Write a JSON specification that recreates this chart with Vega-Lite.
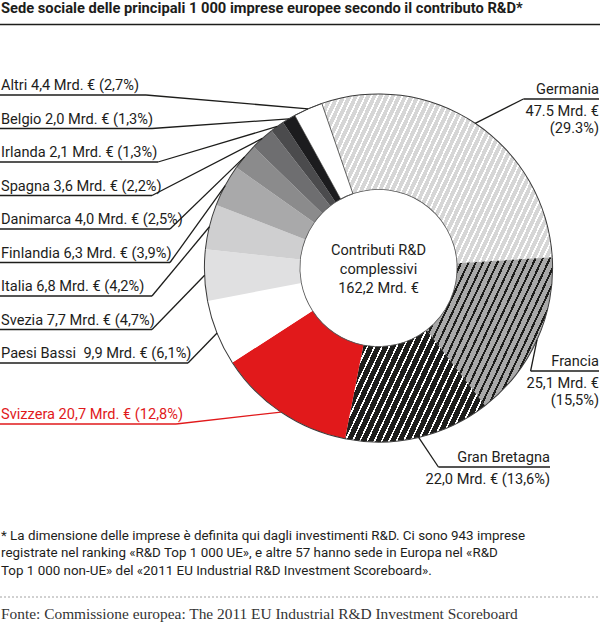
{
  "$schema": "https://vega.github.io/schema/vega-lite/v6.json",
  "width": 600,
  "height": 630,
  "autosize": "none",
  "padding": 0,
  "background": "white",
  "view": {"stroke": null},
  "config": {"font": "Roboto"},
  "layer": [
    {
      "data": {
        "values": [
          {"ord": 1, "paese": "Germania", "valore": 47.5, "quota": 29.3, "etichetta": "Germania\n47.5 Mrd. €\n(29.3%)"},
          {"ord": 2, "paese": "Francia", "valore": 25.1, "quota": 15.5, "etichetta": "Francia\n25,1 Mrd. €\n(15,5%)"},
          {"ord": 3, "paese": "Gran Bretagna", "valore": 22.0, "quota": 13.6, "etichetta": "Gran Bretagna\n22,0 Mrd. € (13,6%)"},
          {"ord": 4, "paese": "Svizzera", "valore": 20.7, "quota": 12.8, "etichetta": "Svizzera 20,7 Mrd. € (12,8%)"},
          {"ord": 5, "paese": "Paesi Bassi", "valore": 9.9, "quota": 6.1, "etichetta": "Paesi Bassi\u00a0 9,9 Mrd. € (6,1%)"},
          {"ord": 6, "paese": "Svezia", "valore": 7.7, "quota": 4.7, "etichetta": "Svezia 7,7 Mrd. € (4,7%)"},
          {"ord": 7, "paese": "Italia", "valore": 6.8, "quota": 4.2, "etichetta": "Italia 6,8 Mrd. € (4,2%)"},
          {"ord": 8, "paese": "Finlandia", "valore": 6.3, "quota": 3.9, "etichetta": "Finlandia 6,3 Mrd. € (3,9%)"},
          {"ord": 9, "paese": "Danimarca", "valore": 4.0, "quota": 2.5, "etichetta": "Danimarca 4,0 Mrd. € (2,5%)"},
          {"ord": 10, "paese": "Spagna", "valore": 3.6, "quota": 2.2, "etichetta": "Spagna 3,6 Mrd. € (2,2%)"},
          {"ord": 11, "paese": "Irlanda", "valore": 2.1, "quota": 1.3, "etichetta": "Irlanda 2,1 Mrd. € (1,3%)"},
          {"ord": 12, "paese": "Belgio", "valore": 2.0, "quota": 1.3, "etichetta": "Belgio 2,0 Mrd. € (1,3%)"},
          {"ord": 13, "paese": "Altri", "valore": 4.4, "quota": 2.7, "etichetta": "Altri 4,4 Mrd. € (2,7%)"}
        ]
      },
      "transform": [
        {"joinaggregate": [{"op": "sum", "field": "valore", "as": "totale"}]},
        {"window": [{"op": "sum", "field": "valore", "as": "cum"}], "sort": [{"field": "ord"}], "frame": [null, 0]},
        {"calculate": "-0.3316 + 2*PI*(datum.cum - datum.valore/2)/datum.totale", "as": "am"},
        {"calculate": "378.5 + 174*sin(datum.am)", "as": "ex"},
        {"calculate": "268 - 174*cos(datum.am)", "as": "ey"},
        {"calculate": "datum.ord >= 5 ? 95 + 33.5*(13 - datum.ord) : datum.ord == 4 ? 424 : datum.ord == 1 ? 99 : datum.ord == 2 ? 371 : 467", "as": "uy"},
        {"calculate": "datum.uy - 5", "as": "ty"},
        {"calculate": "datum.uy + 16.5", "as": "ty2"},
        {"calculate": "datum.ord == 3 ? 550 : 599", "as": "xr"},
        {"calculate": "datum.ord >= 4 ? 8 + 6*length(datum.etichetta) : datum.xr - 18 - 7.2*length(datum.paese)", "as": "ux"},
        {"calculate": "datum.ord >= 4 ? 0 : datum.ux", "as": "u0"},
        {"calculate": "datum.ord >= 4 ? datum.ux : datum.xr", "as": "u1"},
        {"calculate": "replace(datum.etichetta, datum.paese + '\\n', '')", "as": "resto"}
      ],
      "layer": [
        {
          "mark": {"type": "arc", "outerRadius": 174, "innerRadius": 78.5},
          "encoding": {
            "x": {"value": 378.5},
            "y": {"value": 268},
            "theta": {"field": "valore", "type": "quantitative", "stack": true, "scale": {"range": [-0.3316, 5.9516]}},
            "order": {"field": "ord", "type": "quantitative"},
            "stroke": {"condition": {"test": "datum.paese === 'Altri'", "value": "#1d1d1b"}, "value": null},
            "strokeWidth": {"value": 0.7},
            "fill": {
              "condition": [
                {"test": "datum.paese === 'Germania'", "value": {"gradient": "linear", "x1": 0, "y1": 0, "x2": 1.2017, "y2": 0.4122, "stops": [
                  {"offset": 0, "color": "#fff"}, {"offset": 0.006, "color": "#fff"}, {"offset": 0.006, "color": "#d6d6d6"}, {"offset": 0.02, "color": "#d6d6d6"},
                  {"offset": 0.02, "color": "#fff"}, {"offset": 0.026, "color": "#fff"}, {"offset": 0.026, "color": "#d6d6d6"}, {"offset": 0.04, "color": "#d6d6d6"},
                  {"offset": 0.04, "color": "#fff"}, {"offset": 0.046, "color": "#fff"}, {"offset": 0.046, "color": "#d6d6d6"}, {"offset": 0.06, "color": "#d6d6d6"},
                  {"offset": 0.06, "color": "#fff"}, {"offset": 0.066, "color": "#fff"}, {"offset": 0.066, "color": "#d6d6d6"}, {"offset": 0.08, "color": "#d6d6d6"},
                  {"offset": 0.08, "color": "#fff"}, {"offset": 0.086, "color": "#fff"}, {"offset": 0.086, "color": "#d6d6d6"}, {"offset": 0.1, "color": "#d6d6d6"},
                  {"offset": 0.1, "color": "#fff"}, {"offset": 0.106, "color": "#fff"}, {"offset": 0.106, "color": "#d6d6d6"}, {"offset": 0.12, "color": "#d6d6d6"},
                  {"offset": 0.12, "color": "#fff"}, {"offset": 0.126, "color": "#fff"}, {"offset": 0.126, "color": "#d6d6d6"}, {"offset": 0.14, "color": "#d6d6d6"},
                  {"offset": 0.14, "color": "#fff"}, {"offset": 0.146, "color": "#fff"}, {"offset": 0.146, "color": "#d6d6d6"}, {"offset": 0.16, "color": "#d6d6d6"},
                  {"offset": 0.16, "color": "#fff"}, {"offset": 0.166, "color": "#fff"}, {"offset": 0.166, "color": "#d6d6d6"}, {"offset": 0.18, "color": "#d6d6d6"},
                  {"offset": 0.18, "color": "#fff"}, {"offset": 0.186, "color": "#fff"}, {"offset": 0.186, "color": "#d6d6d6"}, {"offset": 0.2, "color": "#d6d6d6"},
                  {"offset": 0.2, "color": "#fff"}, {"offset": 0.206, "color": "#fff"}, {"offset": 0.206, "color": "#d6d6d6"}, {"offset": 0.22, "color": "#d6d6d6"},
                  {"offset": 0.22, "color": "#fff"}, {"offset": 0.226, "color": "#fff"}, {"offset": 0.226, "color": "#d6d6d6"}, {"offset": 0.24, "color": "#d6d6d6"},
                  {"offset": 0.24, "color": "#fff"}, {"offset": 0.246, "color": "#fff"}, {"offset": 0.246, "color": "#d6d6d6"}, {"offset": 0.26, "color": "#d6d6d6"},
                  {"offset": 0.26, "color": "#fff"}, {"offset": 0.266, "color": "#fff"}, {"offset": 0.266, "color": "#d6d6d6"}, {"offset": 0.28, "color": "#d6d6d6"},
                  {"offset": 0.28, "color": "#fff"}, {"offset": 0.286, "color": "#fff"}, {"offset": 0.286, "color": "#d6d6d6"}, {"offset": 0.3, "color": "#d6d6d6"},
                  {"offset": 0.3, "color": "#fff"}, {"offset": 0.306, "color": "#fff"}, {"offset": 0.306, "color": "#d6d6d6"}, {"offset": 0.32, "color": "#d6d6d6"},
                  {"offset": 0.32, "color": "#fff"}, {"offset": 0.326, "color": "#fff"}, {"offset": 0.326, "color": "#d6d6d6"}, {"offset": 0.34, "color": "#d6d6d6"},
                  {"offset": 0.34, "color": "#fff"}, {"offset": 0.346, "color": "#fff"}, {"offset": 0.346, "color": "#d6d6d6"}, {"offset": 0.36, "color": "#d6d6d6"},
                  {"offset": 0.36, "color": "#fff"}, {"offset": 0.366, "color": "#fff"}, {"offset": 0.366, "color": "#d6d6d6"}, {"offset": 0.38, "color": "#d6d6d6"},
                  {"offset": 0.38, "color": "#fff"}, {"offset": 0.386, "color": "#fff"}, {"offset": 0.386, "color": "#d6d6d6"}, {"offset": 0.4, "color": "#d6d6d6"},
                  {"offset": 0.4, "color": "#fff"}, {"offset": 0.406, "color": "#fff"}, {"offset": 0.406, "color": "#d6d6d6"}, {"offset": 0.42, "color": "#d6d6d6"},
                  {"offset": 0.42, "color": "#fff"}, {"offset": 0.426, "color": "#fff"}, {"offset": 0.426, "color": "#d6d6d6"}, {"offset": 0.44, "color": "#d6d6d6"},
                  {"offset": 0.44, "color": "#fff"}, {"offset": 0.446, "color": "#fff"}, {"offset": 0.446, "color": "#d6d6d6"}, {"offset": 0.46, "color": "#d6d6d6"},
                  {"offset": 0.46, "color": "#fff"}, {"offset": 0.466, "color": "#fff"}, {"offset": 0.466, "color": "#d6d6d6"}, {"offset": 0.48, "color": "#d6d6d6"},
                  {"offset": 0.48, "color": "#fff"}, {"offset": 0.486, "color": "#fff"}, {"offset": 0.486, "color": "#d6d6d6"}, {"offset": 0.5, "color": "#d6d6d6"},
                  {"offset": 0.5, "color": "#fff"}, {"offset": 0.506, "color": "#fff"}, {"offset": 0.506, "color": "#d6d6d6"}, {"offset": 0.52, "color": "#d6d6d6"},
                  {"offset": 0.52, "color": "#fff"}, {"offset": 0.526, "color": "#fff"}, {"offset": 0.526, "color": "#d6d6d6"}, {"offset": 0.54, "color": "#d6d6d6"},
                  {"offset": 0.54, "color": "#fff"}, {"offset": 0.546, "color": "#fff"}, {"offset": 0.546, "color": "#d6d6d6"}, {"offset": 0.56, "color": "#d6d6d6"},
                  {"offset": 0.56, "color": "#fff"}, {"offset": 0.566, "color": "#fff"}, {"offset": 0.566, "color": "#d6d6d6"}, {"offset": 0.58, "color": "#d6d6d6"},
                  {"offset": 0.58, "color": "#fff"}, {"offset": 0.586, "color": "#fff"}, {"offset": 0.586, "color": "#d6d6d6"}, {"offset": 0.6, "color": "#d6d6d6"},
                  {"offset": 0.6, "color": "#fff"}, {"offset": 0.606, "color": "#fff"}, {"offset": 0.606, "color": "#d6d6d6"}, {"offset": 0.62, "color": "#d6d6d6"},
                  {"offset": 0.62, "color": "#fff"}, {"offset": 0.626, "color": "#fff"}, {"offset": 0.626, "color": "#d6d6d6"}, {"offset": 0.64, "color": "#d6d6d6"},
                  {"offset": 0.64, "color": "#fff"}, {"offset": 0.646, "color": "#fff"}, {"offset": 0.646, "color": "#d6d6d6"}, {"offset": 0.66, "color": "#d6d6d6"},
                  {"offset": 0.66, "color": "#fff"}, {"offset": 0.666, "color": "#fff"}, {"offset": 0.666, "color": "#d6d6d6"}, {"offset": 0.68, "color": "#d6d6d6"},
                  {"offset": 0.68, "color": "#fff"}, {"offset": 0.686, "color": "#fff"}, {"offset": 0.686, "color": "#d6d6d6"}, {"offset": 0.7, "color": "#d6d6d6"},
                  {"offset": 0.7, "color": "#fff"}, {"offset": 0.706, "color": "#fff"}, {"offset": 0.706, "color": "#d6d6d6"}, {"offset": 0.72, "color": "#d6d6d6"},
                  {"offset": 0.72, "color": "#fff"}, {"offset": 0.726, "color": "#fff"}, {"offset": 0.726, "color": "#d6d6d6"}, {"offset": 0.74, "color": "#d6d6d6"},
                  {"offset": 0.74, "color": "#fff"}, {"offset": 0.746, "color": "#fff"}, {"offset": 0.746, "color": "#d6d6d6"}, {"offset": 0.76, "color": "#d6d6d6"},
                  {"offset": 0.76, "color": "#fff"}, {"offset": 0.766, "color": "#fff"}, {"offset": 0.766, "color": "#d6d6d6"}, {"offset": 0.78, "color": "#d6d6d6"},
                  {"offset": 0.78, "color": "#fff"}, {"offset": 0.786, "color": "#fff"}, {"offset": 0.786, "color": "#d6d6d6"}, {"offset": 0.8, "color": "#d6d6d6"},
                  {"offset": 0.8, "color": "#fff"}, {"offset": 0.806, "color": "#fff"}, {"offset": 0.806, "color": "#d6d6d6"}, {"offset": 0.82, "color": "#d6d6d6"},
                  {"offset": 0.82, "color": "#fff"}, {"offset": 0.826, "color": "#fff"}, {"offset": 0.826, "color": "#d6d6d6"}, {"offset": 0.84, "color": "#d6d6d6"},
                  {"offset": 0.84, "color": "#fff"}, {"offset": 0.846, "color": "#fff"}, {"offset": 0.846, "color": "#d6d6d6"}, {"offset": 0.86, "color": "#d6d6d6"},
                  {"offset": 0.86, "color": "#fff"}, {"offset": 0.866, "color": "#fff"}, {"offset": 0.866, "color": "#d6d6d6"}, {"offset": 0.88, "color": "#d6d6d6"},
                  {"offset": 0.88, "color": "#fff"}, {"offset": 0.886, "color": "#fff"}, {"offset": 0.886, "color": "#d6d6d6"}, {"offset": 0.9, "color": "#d6d6d6"},
                  {"offset": 0.9, "color": "#fff"}, {"offset": 0.906, "color": "#fff"}, {"offset": 0.906, "color": "#d6d6d6"}, {"offset": 0.92, "color": "#d6d6d6"},
                  {"offset": 0.92, "color": "#fff"}, {"offset": 0.926, "color": "#fff"}, {"offset": 0.926, "color": "#d6d6d6"}, {"offset": 0.94, "color": "#d6d6d6"},
                  {"offset": 0.94, "color": "#fff"}, {"offset": 0.946, "color": "#fff"}, {"offset": 0.946, "color": "#d6d6d6"}, {"offset": 0.96, "color": "#d6d6d6"},
                  {"offset": 0.96, "color": "#fff"}, {"offset": 0.966, "color": "#fff"}, {"offset": 0.966, "color": "#d6d6d6"}, {"offset": 0.98, "color": "#d6d6d6"},
                  {"offset": 0.98, "color": "#fff"}, {"offset": 0.986, "color": "#fff"}, {"offset": 0.986, "color": "#d6d6d6"}, {"offset": 1, "color": "#d6d6d6"}
                ]}},
                {"test": "datum.paese === 'Francia'", "value": {"gradient": "linear", "x1": 0, "y1": 0, "x2": 1.19, "y2": 0.654, "stops": [
                  {"offset": 0, "color": "#1d1d1b"}, {"offset": 0.011, "color": "#1d1d1b"}, {"offset": 0.011, "color": "#a9a9a9"}, {"offset": 0.037, "color": "#a9a9a9"},
                  {"offset": 0.037, "color": "#1d1d1b"}, {"offset": 0.048, "color": "#1d1d1b"}, {"offset": 0.048, "color": "#a9a9a9"}, {"offset": 0.074, "color": "#a9a9a9"},
                  {"offset": 0.074, "color": "#1d1d1b"}, {"offset": 0.085, "color": "#1d1d1b"}, {"offset": 0.085, "color": "#a9a9a9"}, {"offset": 0.111, "color": "#a9a9a9"},
                  {"offset": 0.111, "color": "#1d1d1b"}, {"offset": 0.122, "color": "#1d1d1b"}, {"offset": 0.122, "color": "#a9a9a9"}, {"offset": 0.148, "color": "#a9a9a9"},
                  {"offset": 0.148, "color": "#1d1d1b"}, {"offset": 0.159, "color": "#1d1d1b"}, {"offset": 0.159, "color": "#a9a9a9"}, {"offset": 0.185, "color": "#a9a9a9"},
                  {"offset": 0.185, "color": "#1d1d1b"}, {"offset": 0.196, "color": "#1d1d1b"}, {"offset": 0.196, "color": "#a9a9a9"}, {"offset": 0.222, "color": "#a9a9a9"},
                  {"offset": 0.222, "color": "#1d1d1b"}, {"offset": 0.233, "color": "#1d1d1b"}, {"offset": 0.233, "color": "#a9a9a9"}, {"offset": 0.259, "color": "#a9a9a9"},
                  {"offset": 0.259, "color": "#1d1d1b"}, {"offset": 0.27, "color": "#1d1d1b"}, {"offset": 0.27, "color": "#a9a9a9"}, {"offset": 0.296, "color": "#a9a9a9"},
                  {"offset": 0.296, "color": "#1d1d1b"}, {"offset": 0.307, "color": "#1d1d1b"}, {"offset": 0.307, "color": "#a9a9a9"}, {"offset": 0.333, "color": "#a9a9a9"},
                  {"offset": 0.333, "color": "#1d1d1b"}, {"offset": 0.344, "color": "#1d1d1b"}, {"offset": 0.344, "color": "#a9a9a9"}, {"offset": 0.37, "color": "#a9a9a9"},
                  {"offset": 0.37, "color": "#1d1d1b"}, {"offset": 0.381, "color": "#1d1d1b"}, {"offset": 0.381, "color": "#a9a9a9"}, {"offset": 0.407, "color": "#a9a9a9"},
                  {"offset": 0.407, "color": "#1d1d1b"}, {"offset": 0.418, "color": "#1d1d1b"}, {"offset": 0.418, "color": "#a9a9a9"}, {"offset": 0.444, "color": "#a9a9a9"},
                  {"offset": 0.444, "color": "#1d1d1b"}, {"offset": 0.455, "color": "#1d1d1b"}, {"offset": 0.455, "color": "#a9a9a9"}, {"offset": 0.481, "color": "#a9a9a9"},
                  {"offset": 0.481, "color": "#1d1d1b"}, {"offset": 0.492, "color": "#1d1d1b"}, {"offset": 0.492, "color": "#a9a9a9"}, {"offset": 0.518, "color": "#a9a9a9"},
                  {"offset": 0.518, "color": "#1d1d1b"}, {"offset": 0.529, "color": "#1d1d1b"}, {"offset": 0.529, "color": "#a9a9a9"}, {"offset": 0.555, "color": "#a9a9a9"},
                  {"offset": 0.555, "color": "#1d1d1b"}, {"offset": 0.566, "color": "#1d1d1b"}, {"offset": 0.566, "color": "#a9a9a9"}, {"offset": 0.592, "color": "#a9a9a9"},
                  {"offset": 0.592, "color": "#1d1d1b"}, {"offset": 0.603, "color": "#1d1d1b"}, {"offset": 0.603, "color": "#a9a9a9"}, {"offset": 0.629, "color": "#a9a9a9"},
                  {"offset": 0.629, "color": "#1d1d1b"}, {"offset": 0.64, "color": "#1d1d1b"}, {"offset": 0.64, "color": "#a9a9a9"}, {"offset": 0.666, "color": "#a9a9a9"},
                  {"offset": 0.666, "color": "#1d1d1b"}, {"offset": 0.677, "color": "#1d1d1b"}, {"offset": 0.677, "color": "#a9a9a9"}, {"offset": 0.703, "color": "#a9a9a9"},
                  {"offset": 0.703, "color": "#1d1d1b"}, {"offset": 0.714, "color": "#1d1d1b"}, {"offset": 0.714, "color": "#a9a9a9"}, {"offset": 0.74, "color": "#a9a9a9"},
                  {"offset": 0.74, "color": "#1d1d1b"}, {"offset": 0.751, "color": "#1d1d1b"}, {"offset": 0.751, "color": "#a9a9a9"}, {"offset": 0.777, "color": "#a9a9a9"},
                  {"offset": 0.777, "color": "#1d1d1b"}, {"offset": 0.788, "color": "#1d1d1b"}, {"offset": 0.788, "color": "#a9a9a9"}, {"offset": 0.814, "color": "#a9a9a9"},
                  {"offset": 0.814, "color": "#1d1d1b"}, {"offset": 0.825, "color": "#1d1d1b"}, {"offset": 0.825, "color": "#a9a9a9"}, {"offset": 0.851, "color": "#a9a9a9"},
                  {"offset": 0.851, "color": "#1d1d1b"}, {"offset": 0.862, "color": "#1d1d1b"}, {"offset": 0.862, "color": "#a9a9a9"}, {"offset": 0.888, "color": "#a9a9a9"},
                  {"offset": 0.888, "color": "#1d1d1b"}, {"offset": 0.899, "color": "#1d1d1b"}, {"offset": 0.899, "color": "#a9a9a9"}, {"offset": 0.925, "color": "#a9a9a9"},
                  {"offset": 0.925, "color": "#1d1d1b"}, {"offset": 0.936, "color": "#1d1d1b"}, {"offset": 0.936, "color": "#a9a9a9"}, {"offset": 0.962, "color": "#a9a9a9"},
                  {"offset": 0.962, "color": "#1d1d1b"}, {"offset": 0.973, "color": "#1d1d1b"}, {"offset": 0.973, "color": "#a9a9a9"}, {"offset": 1, "color": "#a9a9a9"}
                ]}},
                {"test": "datum.paese === 'Gran Bretagna'", "value": {"gradient": "linear", "x1": 0, "y1": 0, "x2": 1.2054, "y2": 0.4498, "stops": [
                  {"offset": 0, "color": "#fff"}, {"offset": 0.009, "color": "#fff"}, {"offset": 0.009, "color": "#1d1d1b"}, {"offset": 0.038, "color": "#1d1d1b"},
                  {"offset": 0.038, "color": "#fff"}, {"offset": 0.047, "color": "#fff"}, {"offset": 0.047, "color": "#1d1d1b"}, {"offset": 0.076, "color": "#1d1d1b"},
                  {"offset": 0.076, "color": "#fff"}, {"offset": 0.085, "color": "#fff"}, {"offset": 0.085, "color": "#1d1d1b"}, {"offset": 0.114, "color": "#1d1d1b"},
                  {"offset": 0.114, "color": "#fff"}, {"offset": 0.123, "color": "#fff"}, {"offset": 0.123, "color": "#1d1d1b"}, {"offset": 0.152, "color": "#1d1d1b"},
                  {"offset": 0.152, "color": "#fff"}, {"offset": 0.161, "color": "#fff"}, {"offset": 0.161, "color": "#1d1d1b"}, {"offset": 0.19, "color": "#1d1d1b"},
                  {"offset": 0.19, "color": "#fff"}, {"offset": 0.199, "color": "#fff"}, {"offset": 0.199, "color": "#1d1d1b"}, {"offset": 0.228, "color": "#1d1d1b"},
                  {"offset": 0.228, "color": "#fff"}, {"offset": 0.237, "color": "#fff"}, {"offset": 0.237, "color": "#1d1d1b"}, {"offset": 0.266, "color": "#1d1d1b"},
                  {"offset": 0.266, "color": "#fff"}, {"offset": 0.275, "color": "#fff"}, {"offset": 0.275, "color": "#1d1d1b"}, {"offset": 0.304, "color": "#1d1d1b"},
                  {"offset": 0.304, "color": "#fff"}, {"offset": 0.313, "color": "#fff"}, {"offset": 0.313, "color": "#1d1d1b"}, {"offset": 0.342, "color": "#1d1d1b"},
                  {"offset": 0.342, "color": "#fff"}, {"offset": 0.351, "color": "#fff"}, {"offset": 0.351, "color": "#1d1d1b"}, {"offset": 0.38, "color": "#1d1d1b"},
                  {"offset": 0.38, "color": "#fff"}, {"offset": 0.389, "color": "#fff"}, {"offset": 0.389, "color": "#1d1d1b"}, {"offset": 0.418, "color": "#1d1d1b"},
                  {"offset": 0.418, "color": "#fff"}, {"offset": 0.427, "color": "#fff"}, {"offset": 0.427, "color": "#1d1d1b"}, {"offset": 0.456, "color": "#1d1d1b"},
                  {"offset": 0.456, "color": "#fff"}, {"offset": 0.465, "color": "#fff"}, {"offset": 0.465, "color": "#1d1d1b"}, {"offset": 0.494, "color": "#1d1d1b"},
                  {"offset": 0.494, "color": "#fff"}, {"offset": 0.503, "color": "#fff"}, {"offset": 0.503, "color": "#1d1d1b"}, {"offset": 0.532, "color": "#1d1d1b"},
                  {"offset": 0.532, "color": "#fff"}, {"offset": 0.541, "color": "#fff"}, {"offset": 0.541, "color": "#1d1d1b"}, {"offset": 0.57, "color": "#1d1d1b"},
                  {"offset": 0.57, "color": "#fff"}, {"offset": 0.579, "color": "#fff"}, {"offset": 0.579, "color": "#1d1d1b"}, {"offset": 0.608, "color": "#1d1d1b"},
                  {"offset": 0.608, "color": "#fff"}, {"offset": 0.617, "color": "#fff"}, {"offset": 0.617, "color": "#1d1d1b"}, {"offset": 0.646, "color": "#1d1d1b"},
                  {"offset": 0.646, "color": "#fff"}, {"offset": 0.655, "color": "#fff"}, {"offset": 0.655, "color": "#1d1d1b"}, {"offset": 0.684, "color": "#1d1d1b"},
                  {"offset": 0.684, "color": "#fff"}, {"offset": 0.693, "color": "#fff"}, {"offset": 0.693, "color": "#1d1d1b"}, {"offset": 0.722, "color": "#1d1d1b"},
                  {"offset": 0.722, "color": "#fff"}, {"offset": 0.731, "color": "#fff"}, {"offset": 0.731, "color": "#1d1d1b"}, {"offset": 0.76, "color": "#1d1d1b"},
                  {"offset": 0.76, "color": "#fff"}, {"offset": 0.769, "color": "#fff"}, {"offset": 0.769, "color": "#1d1d1b"}, {"offset": 0.798, "color": "#1d1d1b"},
                  {"offset": 0.798, "color": "#fff"}, {"offset": 0.807, "color": "#fff"}, {"offset": 0.807, "color": "#1d1d1b"}, {"offset": 0.836, "color": "#1d1d1b"},
                  {"offset": 0.836, "color": "#fff"}, {"offset": 0.845, "color": "#fff"}, {"offset": 0.845, "color": "#1d1d1b"}, {"offset": 0.874, "color": "#1d1d1b"},
                  {"offset": 0.874, "color": "#fff"}, {"offset": 0.883, "color": "#fff"}, {"offset": 0.883, "color": "#1d1d1b"}, {"offset": 0.912, "color": "#1d1d1b"},
                  {"offset": 0.912, "color": "#fff"}, {"offset": 0.921, "color": "#fff"}, {"offset": 0.921, "color": "#1d1d1b"}, {"offset": 0.95, "color": "#1d1d1b"},
                  {"offset": 0.95, "color": "#fff"}, {"offset": 0.959, "color": "#fff"}, {"offset": 0.959, "color": "#1d1d1b"}, {"offset": 1, "color": "#1d1d1b"}
                ]}}
              ],
              "field": "paese",
              "type": "nominal",
              "legend": null,
              "scale": {
                "domain": ["Germania", "Francia", "Gran Bretagna", "Svizzera", "Paesi Bassi", "Svezia", "Italia", "Finlandia", "Danimarca", "Spagna", "Irlanda", "Belgio", "Altri"],
                "range": ["#e0e0e0", "#7a7a7a", "#3a3a3a", "#e1191b", "#ffffff", "#e0e0e1", "#cfcfd0", "#a9a9aa", "#8b8b8c", "#6e6e70", "#4b4b4d", "#1c1c1e", "#ffffff"]
              }
            }
          }
        },
        {
          "mark": {"type": "arc", "outerRadius": 174.6, "innerRadius": 173.6, "fill": "#3a3a3a"},
          "encoding": {
            "x": {"value": 378.5},
            "y": {"value": 268},
            "theta": {"field": "valore", "type": "quantitative", "stack": true},
            "order": {"field": "ord", "type": "quantitative"}
          }
        },
        {
          "mark": {"type": "arc", "outerRadius": 79, "innerRadius": 78.2, "fill": "#555555"},
          "encoding": {
            "x": {"value": 378.5},
            "y": {"value": 268},
            "theta": {"field": "valore", "type": "quantitative", "stack": true},
            "order": {"field": "ord", "type": "quantitative"}
          }
        },
        {
          "mark": {"type": "rule", "strokeWidth": 1.3},
          "encoding": {
            "x": {"field": "u0", "type": "quantitative", "scale": null, "axis": null},
            "x2": {"field": "u1"},
            "y": {"field": "uy", "type": "quantitative", "scale": null, "axis": null},
            "stroke": {"condition": {"test": "datum.paese === 'Svizzera'", "value": "#e1191b"}, "value": "#1d1d1b"}
          }
        },
        {
          "mark": {"type": "rule", "strokeWidth": 1.3},
          "encoding": {
            "x": {"field": "ux", "type": "quantitative", "scale": null, "axis": null},
            "y": {"field": "uy", "type": "quantitative", "scale": null, "axis": null},
            "x2": {"field": "ex"},
            "y2": {"field": "ey"},
            "stroke": {"condition": {"test": "datum.paese === 'Svizzera'", "value": "#e1191b"}, "value": "#1d1d1b"}
          }
        },
        {
          "transform": [{"filter": "datum.ord >= 4"}],
          "mark": {"type": "text", "align": "left", "baseline": "alphabetic", "fontSize": 14.6},
          "encoding": {
            "x": {"value": 1},
            "y": {"field": "ty", "type": "quantitative", "scale": null, "axis": null},
            "text": {"field": "etichetta"},
            "fill": {"condition": {"test": "datum.paese === 'Svizzera'", "value": "#e1191b"}, "value": "#1d1d1b"}
          }
        },
        {
          "transform": [{"filter": "datum.ord <= 3"}],
          "mark": {"type": "text", "align": "right", "baseline": "alphabetic", "fontSize": 14.6, "fill": "#1d1d1b"},
          "encoding": {
            "x": {"field": "xr", "type": "quantitative", "scale": null, "axis": null},
            "y": {"field": "ty", "type": "quantitative", "scale": null, "axis": null},
            "text": {"field": "paese"}
          }
        },
        {
          "transform": [{"filter": "datum.ord <= 3"}],
          "mark": {"type": "text", "align": "right", "baseline": "alphabetic", "fontSize": 14.6, "lineBreak": "\n", "lineHeight": 17, "fill": "#1d1d1b"},
          "encoding": {
            "x": {"field": "xr", "type": "quantitative", "scale": null, "axis": null},
            "y": {"field": "ty2", "type": "quantitative", "scale": null, "axis": null},
            "text": {"field": "resto"}
          }
        }
      ]
    },
    {
      "data": {"values": [{"t": "Contributi R&D\ncomplessivi\n162,2 Mrd. €"}]},
      "mark": {"type": "text", "align": "center", "baseline": "middle", "fontSize": 14.6, "lineBreak": "\n", "lineHeight": 19, "fill": "#1d1d1b"},
      "encoding": {"x": {"value": 378.5}, "y": {"value": 250.5}, "text": {"field": "t"}}
    },
    {
      "data": {"values": [{"t": "Sede sociale delle principali 1 000 imprese europee secondo il contributo R&D*"}]},
      "mark": {"type": "text", "align": "left", "baseline": "alphabetic", "fontSize": 14.7, "fontWeight": "bold", "fill": "#1d1d1b"},
      "encoding": {"x": {"value": 1}, "y": {"value": 13}, "text": {"field": "t"}}
    },
    {
      "data": {"values": [{"t": "* La dimensione delle imprese è definita qui dagli investimenti R&D. Ci sono 943 imprese\nregistrate nel ranking «R&D Top 1 000 UE», e altre 57 hanno sede in Europa nel «R&D\nTop 1 000 non-UE» del «2011 EU Industrial R&D Investment Scoreboard»."}]},
      "mark": {"type": "text", "align": "left", "baseline": "alphabetic", "fontSize": 13.4, "lineBreak": "\n", "lineHeight": 17.5, "fill": "#1d1d1b"},
      "encoding": {"x": {"value": 1}, "y": {"value": 539.5}, "text": {"field": "t"}}
    },
    {
      "data": {"values": [{"t": "Fonte: Commissione europea: The 2011 EU Industrial R&D Investment Scoreboard"}]},
      "mark": {"type": "text", "align": "left", "baseline": "alphabetic", "fontSize": 15.4, "font": "Liberation Serif", "fill": "#333333"},
      "encoding": {"x": {"value": 1}, "y": {"value": 619}, "text": {"field": "t"}}
    },
    {
      "data": {"values": [{"t": "titolo"}]},
      "mark": {"type": "rule", "strokeWidth": 1.5, "stroke": "#1d1d1b"},
      "encoding": {"x": {"value": 0}, "x2": {"value": 600}, "y": {"value": 24.5}}
    },
    {
      "data": {"values": [{"t": "fonte"}]},
      "mark": {"type": "rule", "strokeWidth": 0.8, "stroke": "#8c8c8c", "strokeDash": [2, 2]},
      "encoding": {"x": {"value": 0}, "x2": {"value": 600}, "y": {"value": 597}}
    }
  ]
}
